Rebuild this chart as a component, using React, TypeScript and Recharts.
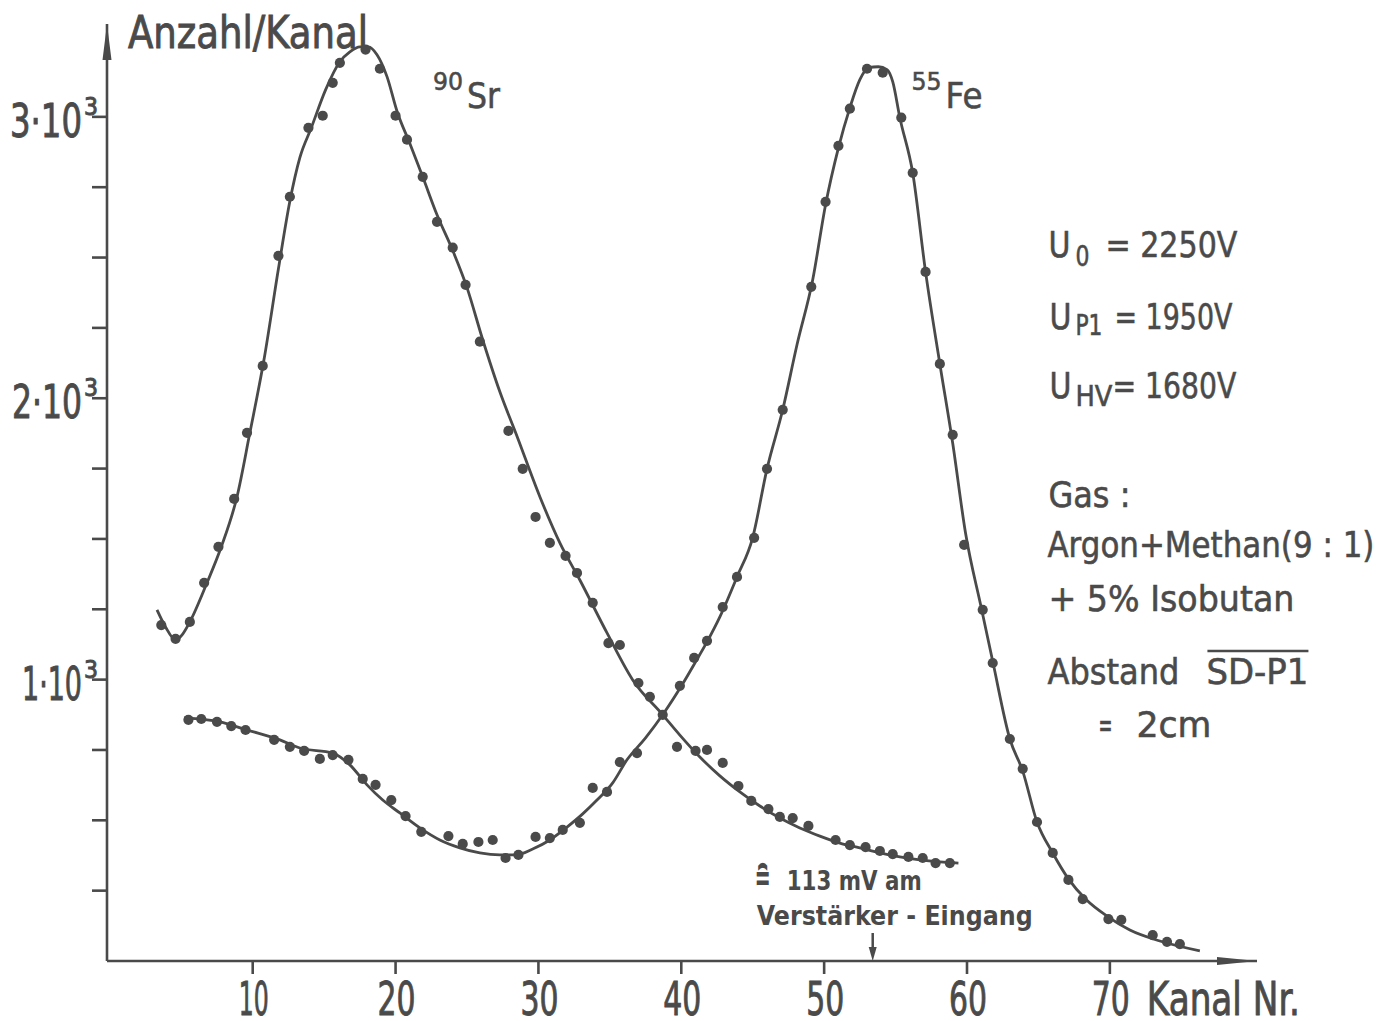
import React from 'react';
import { ComposedChart, Line, Scatter, XAxis, YAxis, ReferenceDot } from 'recharts';

const INK = '#4a4a4a';
const SANS = "'DejaVu Sans Condensed', 'DejaVu Sans', sans-serif";
const PLAIN = "'DejaVu Sans', sans-serif";

// [channel, counts per channel]
const srMeasured: [number, number][] = [
  [3.6, 1194], [4.6, 1145], [5.6, 1205], [6.6, 1344], [7.6, 1472], [8.7, 1642], [9.6, 1877],
  [10.7, 2115], [11.8, 2506], [12.6, 2716], [13.9, 2961], [14.9, 3004], [15.6, 3121], [16.1, 3192],
  [17.9, 3239], [18.9, 3171], [20.0, 3004], [20.8, 2919], [21.9, 2787], [22.9, 2627], [24.0, 2535],
  [24.9, 2403], [25.9, 2201], [27.9, 1884], [28.9, 1749], [29.8, 1578], [30.8, 1486], [31.9, 1440],
  [32.7, 1379], [33.8, 1273], [34.9, 1130], [35.7, 1123], [37.0, 988], [37.8, 939], [39.7, 761],
  [41.0, 747], [41.8, 750], [42.9, 704], [44.0, 622], [44.9, 569], [46.1, 540], [46.9, 512],
  [47.8, 508], [48.9, 480], [50.8, 430], [51.8, 412], [52.9, 405], [53.9, 391], [54.8, 380],
  [55.9, 370], [56.9, 366], [57.8, 348], [58.8, 348],
];

const srFit: [number, number][] = [
  [3.3, 1248], [3.9, 1187], [4.6, 1141], [5.1, 1162], [5.6, 1205], [6.8, 1344], [7.8, 1472],
  [8.9, 1650], [9.8, 1877], [10.8, 2140], [11.8, 2460], [12.6, 2700], [13.3, 2855], [14.1, 2961],
  [15.1, 3096], [16.1, 3196], [16.8, 3231], [17.5, 3249], [18.1, 3249], [18.7, 3221], [19.4, 3143],
  [20.1, 3020], [21.0, 2905], [21.9, 2787], [22.9, 2652], [24.0, 2525], [25.0, 2393], [26.1, 2208],
  [27.3, 2023], [28.5, 1865], [30.1, 1650], [31.5, 1486], [32.9, 1354], [34.8, 1166], [36.6, 999],
  [38.7, 875], [39.9, 803], [41.3, 725], [42.7, 658], [44.1, 601], [45.5, 551], [46.9, 508],
  [48.3, 473], [49.7, 444], [51.1, 419], [52.5, 402], [53.9, 384], [55.3, 370], [56.7, 359],
  [58.1, 352], [59.4, 348],
];

const feMeasured: [number, number][] = [
  [5.5, 857], [6.4, 860], [7.5, 850], [8.5, 835], [9.5, 821], [11.5, 786], [12.6, 761],
  [13.6, 747], [14.7, 718], [15.6, 732], [16.7, 715], [17.7, 647], [18.6, 626], [19.7, 572],
  [20.7, 515], [21.8, 459], [23.7, 444], [24.7, 416], [25.8, 423], [26.8, 430], [27.7, 366],
  [28.6, 377], [29.8, 441], [30.8, 437], [31.7, 466], [32.9, 491], [33.8, 615], [34.8, 601],
  [35.7, 707], [36.9, 739], [38.7, 875], [39.9, 978], [40.9, 1077], [41.8, 1138], [42.9, 1258],
  [43.9, 1365], [45.1, 1504], [46.0, 1749], [47.1, 1959], [49.1, 2396], [50.1, 2698], [51.0, 2897],
  [51.8, 3029], [53.0, 3171], [54.1, 3157], [55.4, 2997], [56.2, 2801], [57.1, 2449], [58.1, 2122],
  [59.0, 1870], [59.8, 1479], [61.1, 1248], [61.8, 1059], [63.0, 789], [63.9, 683], [64.9, 494],
  [66.0, 384], [67.1, 288], [68.1, 220], [69.9, 149], [70.8, 146], [73.0, 92], [74.0, 68], [74.9, 60],
];

const feFit: [number, number][] = [
  [5.2, 864], [7.7, 850], [9.6, 821], [11.9, 786], [13.3, 757], [15.6, 739], [16.8, 697],
  [18.0, 626], [19.1, 572], [20.3, 526], [21.7, 473], [23.1, 430], [24.5, 402], [25.9, 384],
  [27.3, 377], [28.4, 377], [29.6, 398], [30.8, 430], [32.0, 476], [33.1, 523], [34.1, 572],
  [35.2, 633], [36.2, 715], [37.5, 793], [38.7, 875], [40.1, 985], [41.0, 1063], [41.8, 1134],
  [42.7, 1223], [43.9, 1365], [45.0, 1505], [46.0, 1749], [47.1, 1959], [48.1, 2190], [49.2, 2421],
  [50.1, 2688], [51.0, 2890], [51.8, 3032], [52.5, 3132], [53.1, 3175], [53.8, 3178], [54.4, 3168],
  [54.8, 3125], [55.3, 2997], [56.2, 2801], [57.1, 2449], [58.1, 2122], [59.0, 1840], [59.9, 1520],
  [61.0, 1255], [61.8, 1065], [63.0, 789], [63.9, 675], [64.9, 494], [66.0, 384], [67.1, 292],
  [68.3, 220], [69.9, 156], [71.4, 110], [73.5, 71], [76.3, 36],
];

const channelTicks = [10, 20, 30, 40, 50, 60, 70];
const countTicks = [250, 500, 750, 1000, 1250, 1500, 1750, 2000, 2250, 2500, 2750, 3000];
const decadeLabels: Record<number, string> = { 1000: '1·10', 2000: '2·10', 3000: '3·10' };
const decadeWidths: Record<number, number> = { 1000: 60, 2000: 70, 3000: 72 };

const channelDomain: [number, number] = [-0.2, 80.3];
const countDomain: [number, number] = [0, 3330];
const amplifierChannel = 53.4;

const toPoints = (rows: [number, number][]) => rows.map(([x, y]) => ({ x, y }));

// slightly heavier lettering than the plain font weight
const heavy = { stroke: INK, strokeWidth: 0.9 };

const ChannelTick = ({ x, y, payload }: any) => {
  const v = payload.value;
  return (
    <g fill={INK} fontFamily={SANS} {...heavy}>
      <text x={x + 1} y={y + 39} textAnchor="middle" fontSize={46}
        textLength={v === 10 ? 30 : 38} lengthAdjust="spacingAndGlyphs">{v}</text>
      {v === 70 && (
        <text x={x + 37} y={y + 39} fontSize={46} textLength={153} lengthAdjust="spacingAndGlyphs">
          Kanal Nr.
        </text>
      )}
    </g>
  );
};

const CountTick = ({ x, y, payload }: any) => {
  const label = decadeLabels[payload.value];
  if (!label) return <g />;
  return (
    <g fill={INK} fontFamily={SANS} {...heavy}>
      <text x={x} y={y + 20} textAnchor="end" fontSize={46}
        textLength={decadeWidths[payload.value]} lengthAdjust="spacingAndGlyphs">{label}</text>
      <text x={x + 2} y={y - 2} fontSize={25} textLength={14} lengthAdjust="spacingAndGlyphs">3</text>
    </g>
  );
};

const Bead = ({ cx, cy }: any) => <circle cx={cx} cy={cy} r={5.1} fill={INK} />;

const XArrow = ({ cx, cy }: any) => (
  <polygon points={`${cx},${cy} ${cx - 40},${cy - 4} ${cx - 40},${cy + 4}`} fill={INK} />
);

const YArrow = ({ cx, cy }: any) => (
  <g>
    <polygon points={`${cx},${cy} ${cx - 4.5},${cy + 36} ${cx + 4.5},${cy + 36}`} fill={INK} />
    <text x={cx + 21} y={cy + 24} fill={INK} fontFamily={SANS} fontSize={45} {...heavy}
      textLength={240} lengthAdjust="spacingAndGlyphs">Anzahl/Kanal</text>
  </g>
);

const Isotope = ({ cx, cy, mass, name, width }: any) => (
  <g fill={INK} fontFamily={PLAIN} stroke={INK} strokeWidth={0.6}>
    <text x={cx - 34} y={cy - 18} fontSize={25} textLength={30} lengthAdjust="spacingAndGlyphs">{mass}</text>
    <text x={cx} y={cy} fontSize={36} textLength={width} lengthAdjust="spacingAndGlyphs">{name}</text>
  </g>
);

const T = ({ x, y, w, size = 36, children }: any) => (
  <text x={x} y={y} fontSize={size} textLength={w} lengthAdjust="spacingAndGlyphs">{children}</text>
);

const RunInfo = ({ cx, cy }: any) => (
  <g fill={INK} fontFamily={PLAIN} stroke={INK} strokeWidth={0.6}>
    <T x={cx} y={cy} w={22}>U</T>
    <T x={cx + 27} y={cy + 9} w={14} size={28}>0</T>
    <T x={cx + 57} y={cy} w={132}>= 2250V</T>

    <T x={cx + 1} y={cy + 72} w={22}>U</T>
    <T x={cx + 27} y={cy + 78} w={27} size={28}>P1</T>
    <T x={cx + 66} y={cy + 72} w={118}>= 1950V</T>

    <T x={cx + 1} y={cy + 141} w={22}>U</T>
    <T x={cx + 27} y={cy + 149} w={37} size={28}>HV</T>
    <T x={cx + 64} y={cy + 141} w={124}>= 1680V</T>

    <T x={cx} y={cy + 250} w={82}>Gas :</T>
    <T x={cx - 1} y={cy + 300} w={327}>Argon+Methan(9 : 1)</T>
    <T x={cx} y={cy + 354} w={246}>+ 5% Isobutan</T>
    <T x={cx - 1} y={cy + 427} w={132}>Abstand</T>
    <T x={cx + 158} y={cy + 427} w={102}>SD-P1</T>
    <line x1={cx + 159} x2={cx + 260} y1={cy + 394} y2={cy + 394} stroke={INK} strokeWidth={2.5} />
    <T x={cx + 50} y={cy + 480} w={14}>=</T>
    <T x={cx + 88} y={cy + 480} w={75}>2cm</T>
  </g>
);

const AmplifierMark = ({ cx, cy }: any) => (
  <g fill={INK}>
    <line x1={cx} x2={cx} y1={cy - 28} y2={cy - 10} stroke={INK} strokeWidth={2.5} />
    <polygon points={`${cx},${cy} ${cx - 4},${cy - 14} ${cx + 4},${cy - 14}`} />
    <g fontFamily={PLAIN} fontWeight="bold">
      <T x={cx - 118} y={cy - 70} w={16} size={40}>≘</T>
      <T x={cx - 86} y={cy - 71} w={135} size={26}>113 mV am</T>
      <T x={cx - 116} y={cy - 36} w={276} size={26}>Verstärker - Eingang</T>
    </g>
  </g>
);

export default function App() {
  return (
    <div style={{ position: 'absolute', left: 0, top: 0, width: 1388, height: 1021, background: '#fff' }}>
      <ComposedChart width={1388} height={1021} margin={{ top: 24, right: 131, bottom: 0, left: 0 }}>
        <XAxis type="number" dataKey="x" domain={channelDomain} allowDataOverflow ticks={channelTicks}
          height={60} tickSize={13} axisLine={{ stroke: INK, strokeWidth: 2.6 }}
          tickLine={{ stroke: INK, strokeWidth: 2.6 }} tick={<ChannelTick />} />
        <YAxis type="number" dataKey="y" domain={countDomain} allowDataOverflow ticks={countTicks}
          width={107} tickSize={15} tickMargin={10} axisLine={{ stroke: INK, strokeWidth: 2.6 }}
          tickLine={{ stroke: INK, strokeWidth: 2.6 }} tick={<CountTick />} />

        <Line data={toPoints(srFit)} dataKey="y" type="monotone" stroke={INK} strokeWidth={2.8}
          dot={false} activeDot={false} isAnimationActive={false} />
        <Line data={toPoints(feFit)} dataKey="y" type="monotone" stroke={INK} strokeWidth={2.8}
          dot={false} activeDot={false} isAnimationActive={false} />
        <Scatter data={toPoints(srMeasured)} dataKey="y" shape={<Bead />} isAnimationActive={false} />
        <Scatter data={toPoints(feMeasured)} dataKey="y" shape={<Bead />} isAnimationActive={false} />

        <ReferenceDot x={80.3} y={0} ifOverflow="visible" shape={<XArrow />} />
        <ReferenceDot x={-0.2} y={3330} ifOverflow="visible" shape={<YArrow />} />
        <ReferenceDot x={25.0} y={3030} ifOverflow="visible"
          shape={<Isotope mass="90" name="Sr" width={33} />} />
        <ReferenceDot x={58.5} y={3030} ifOverflow="visible"
          shape={<Isotope mass="55" name="Fe" width={37} />} />
        <ReferenceDot x={65.7} y={2502} ifOverflow="visible" shape={<RunInfo />} />
        <ReferenceDot x={amplifierChannel} y={0} ifOverflow="visible" shape={<AmplifierMark />} />
      </ComposedChart>
    </div>
  );
}
